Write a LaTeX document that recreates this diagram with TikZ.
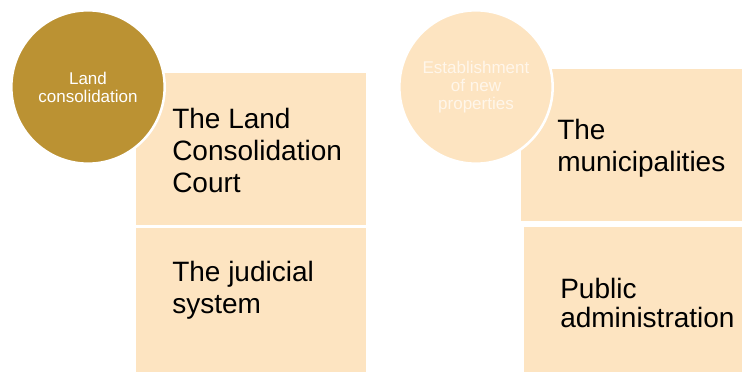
\documentclass[tikz,border=0pt]{standalone}
\usepackage{fontspec}
\setmainfont{Liberation Sans}
\definecolor{gold}{HTML}{BB9233}
\definecolor{peach}{HTML}{FDE4C1}
\definecolor{lighttext}{HTML}{FFF6EA}
\tikzset{
  boxshape/.style={rectangle, fill=peach, draw=none, inner sep=0pt, anchor=north west},
  boxtext/.style={anchor=base west, align=left, inner sep=0pt, text=black, font=\fontsize{21pt}{24pt}\selectfont},
  bubble/.style={circle, draw=white, line width=1.9pt, inner sep=0pt, minimum size=115pt, align=center, font=\fontsize{12.75pt}{13.6pt}\selectfont}
}
\begin{document}
\begin{tikzpicture}[x=0.75pt, y=-0.75pt]
\useasboundingbox (0,0) rectangle (742,372);
% boxes
\node[boxshape, minimum width=172.5pt, minimum height=114pt] (b1) at (136,73) {};
\node[boxshape, minimum width=172.5pt, minimum height=108pt] (b2) at (136,228) {};
\node[boxshape, minimum width=165.75pt, minimum height=114pt] (b3) at (521,69) {};
\node[boxshape, minimum width=163.5pt, minimum height=108.75pt] (b4) at (524,227) {};
% box texts (anchored at the baseline of the last line)
\node[boxtext] (t1) at (172,192) {The Land\\Consolidation\\Court};
\node[boxtext] (t2) at (172,313) {The judicial\\system};
\node[boxtext] (t3) at (557,171) {The\\municipalities};
\node[boxtext, font=\fontsize{21pt}{21.75pt}\selectfont] (t4) at (560,327) {Public\\administration};
% circles
\node[bubble, fill=gold, text=white] (c1) at (88,87) {Land\\consolidation};
\node[bubble, fill=peach, text=lighttext, font=\fontsize{12.75pt}{13.3pt}\selectfont] (c2) at (476,87) {Establishment\\of new\\properties};
\end{tikzpicture}
\end{document}
